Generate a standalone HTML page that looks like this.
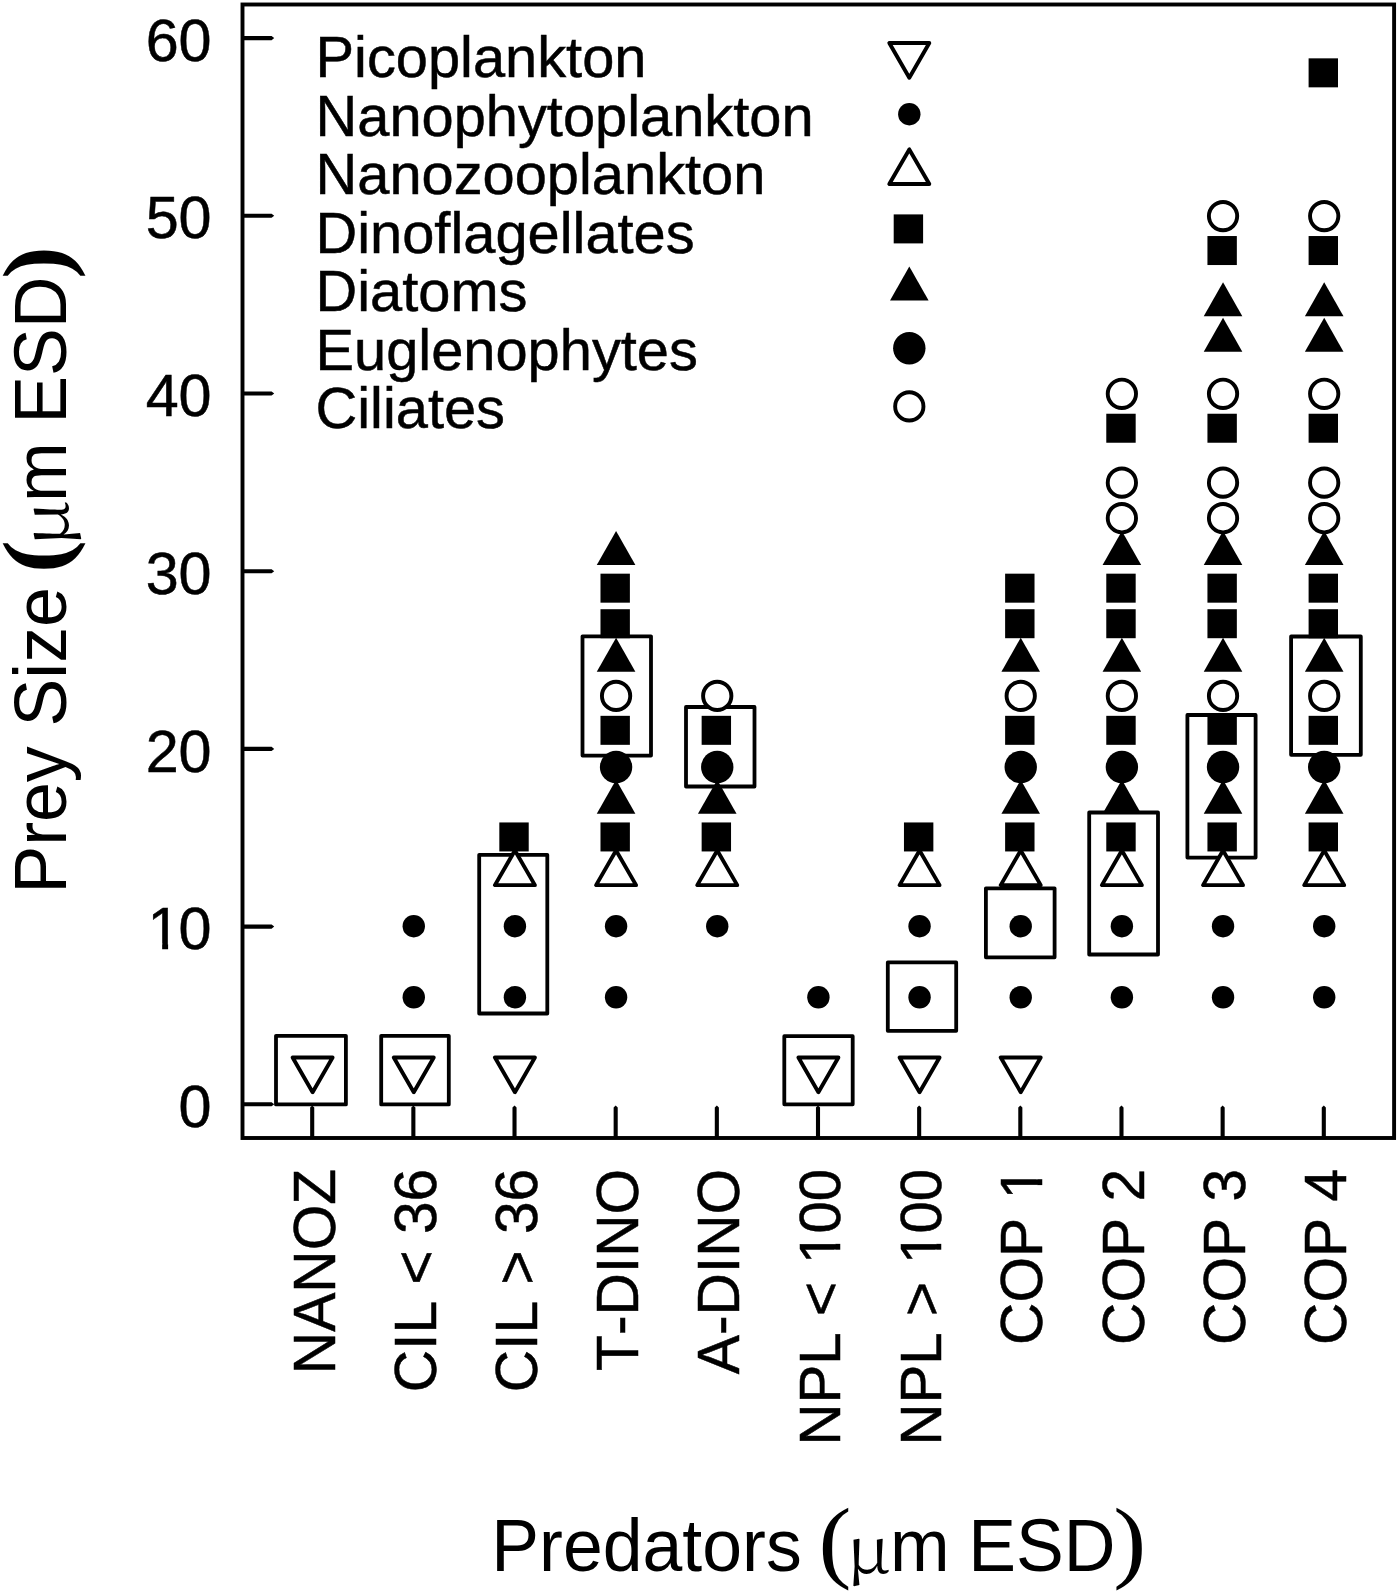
<!DOCTYPE html>
<html lang="en">
<head>
<meta charset="utf-8">
<title>Prey Size vs Predators</title>
<style>
html,body{margin:0;padding:0;background:#fff;}
body{width:1400px;height:1595px;overflow:hidden;}
svg{display:block;}
.ln{fill:none;stroke:#000;stroke-width:3.9;stroke-linejoin:miter;}
.tk polygon{fill:#000;stroke:none;}
.bx rect{fill:none;stroke:#000;stroke-width:3.8;stroke-linejoin:round;}
.o{fill:#fff;stroke:#000;stroke-width:3.9;stroke-linejoin:round;}
.k{fill:#000;stroke:none;}
.w{fill:#fff;stroke:none;}
text{font-kerning:none;fill:#000;}
.t{font-family:"Liberation Sans",Arial,Helvetica,sans-serif;font-size:58px;stroke:#000;stroke-width:0.5px;}
.lg{font-size:57.8px;}
.yl{font-size:59.3px;}
.xl{font-size:58.7px;}
.ti{font-family:"Liberation Sans",Arial,Helvetica,sans-serif;font-size:71.6px;}
.pa{font-family:"Liberation Serif","Times New Roman",serif;font-size:91.5px;}
.mu{font-family:"Noto Serif CJK SC","Liberation Serif",serif;font-size:63.6px;}
.yb{font-weight:bold;}
.e{text-anchor:end;}
</style>
</head>
<body>
<svg width="1400" height="1595" viewBox="0 0 1400 1595">
<rect x="0" y="0" width="1400" height="1595" fill="#fff"/>
<g id="frame"><rect class="ln" x="242.5" y="4.5" width="1151.6" height="1133.5"/></g>
<g id="ticks" class="tk">
<polygon points="243,1102.25 271.6,1102.25 274.2,1104.3 271.6,1106.35 243,1106.35"/>
<polygon points="243,924.55 271.6,924.55 274.2,926.6 271.6,928.65 243,928.65"/>
<polygon points="243,746.85 271.6,746.85 274.2,748.9 271.6,750.95 243,750.95"/>
<polygon points="243,569.15 271.6,569.15 274.2,571.2 271.6,573.25 243,573.25"/>
<polygon points="243,391.45 271.6,391.45 274.2,393.5 271.6,395.55 243,395.55"/>
<polygon points="243,213.75 271.6,213.75 274.2,215.8 271.6,217.85 243,217.85"/>
<polygon points="243,36.05 271.6,36.05 274.2,38.1 271.6,40.15 243,40.15"/>
<polygon points="310.15,1137.5 310.15,1107.6 312.2,1105.4 314.25,1107.6 314.25,1137.5"/>
<polygon points="411.31,1137.5 411.31,1107.6 413.36,1105.4 415.41,1107.6 415.41,1137.5"/>
<polygon points="512.47,1137.5 512.47,1107.6 514.52,1105.4 516.57,1107.6 516.57,1137.5"/>
<polygon points="613.63,1137.5 613.63,1107.6 615.68,1105.4 617.73,1107.6 617.73,1137.5"/>
<polygon points="714.79,1137.5 714.79,1107.6 716.84,1105.4 718.89,1107.6 718.89,1137.5"/>
<polygon points="815.95,1137.5 815.95,1107.6 818,1105.4 820.05,1107.6 820.05,1137.5"/>
<polygon points="917.11,1137.5 917.11,1107.6 919.16,1105.4 921.21,1107.6 921.21,1137.5"/>
<polygon points="1018.27,1137.5 1018.27,1107.6 1020.32,1105.4 1022.37,1107.6 1022.37,1137.5"/>
<polygon points="1119.43,1137.5 1119.43,1107.6 1121.48,1105.4 1123.53,1107.6 1123.53,1137.5"/>
<polygon points="1220.59,1137.5 1220.59,1107.6 1222.64,1105.4 1224.69,1107.6 1224.69,1137.5"/>
<polygon points="1321.75,1137.5 1321.75,1107.6 1323.8,1105.4 1325.85,1107.6 1325.85,1137.5"/>
</g>
<g id="boxes" class="bx">
<rect x="276" y="1035.8" width="69.9" height="68.6"/>
<rect x="381.2" y="1035.8" width="67.6" height="68.6"/>
<rect x="479.2" y="854.8" width="68.1" height="158.7"/>
<rect x="582.5" y="636.3" width="68.5" height="119.3"/>
<rect x="686" y="707" width="68.5" height="79.5"/>
<rect x="784.3" y="1036.2" width="68.4" height="68.1"/>
<rect x="887.8" y="962.4" width="68.4" height="68.4"/>
<rect x="985.9" y="888.3" width="68.7" height="69"/>
<rect x="1089.2" y="812.5" width="68.8" height="142"/>
<rect x="1187.4" y="715" width="68.2" height="142.6"/>
<rect x="1291.1" y="636.5" width="69.7" height="118.3"/>
</g>
<g id="symbols">
<polygon class="o" points="494.92,885.14 534.92,885.14 514.92,850.5"/>
<polygon class="o" points="596.08,885.14 636.08,885.14 616.08,850.5"/>
<polygon class="o" points="697.24,885.14 737.24,885.14 717.24,850.5"/>
<polygon class="o" points="899.56,885.14 939.56,885.14 919.56,850.5"/>
<polygon class="o" points="1000.72,885.14 1040.72,885.14 1020.72,850.5"/>
<polygon class="o" points="1101.88,885.14 1141.88,885.14 1121.88,850.5"/>
<polygon class="o" points="1203.04,885.14 1243.04,885.14 1223.04,850.5"/>
<polygon class="o" points="1304.2,885.14 1344.2,885.14 1324.2,850.5"/>
<polygon class="o" points="292.6,1057.51 332.6,1057.51 312.6,1092.15"/>
<polygon class="o" points="393.76,1057.51 433.76,1057.51 413.76,1092.15"/>
<polygon class="o" points="494.92,1057.51 534.92,1057.51 514.92,1092.15"/>
<polygon class="o" points="798.4,1057.51 838.4,1057.51 818.4,1092.15"/>
<polygon class="o" points="899.56,1057.51 939.56,1057.51 919.56,1092.15"/>
<polygon class="o" points="1000.72,1057.51 1040.72,1057.51 1020.72,1092.15"/>
<circle class="k" cx="413.76" cy="997.28" r="11.2"/>
<circle class="k" cx="413.76" cy="926.2" r="11.2"/>
<circle class="k" cx="514.92" cy="997.28" r="11.2"/>
<circle class="k" cx="514.92" cy="926.2" r="11.2"/>
<circle class="k" cx="616.08" cy="997.28" r="11.2"/>
<circle class="k" cx="616.08" cy="926.2" r="11.2"/>
<circle class="k" cx="717.24" cy="926.2" r="11.2"/>
<circle class="k" cx="818.4" cy="997.28" r="11.2"/>
<circle class="k" cx="919.56" cy="997.28" r="11.2"/>
<circle class="k" cx="919.56" cy="926.2" r="11.2"/>
<circle class="k" cx="1020.72" cy="997.28" r="11.2"/>
<circle class="k" cx="1020.72" cy="926.2" r="11.2"/>
<circle class="k" cx="1121.88" cy="997.28" r="11.2"/>
<circle class="k" cx="1121.88" cy="926.2" r="11.2"/>
<circle class="k" cx="1223.04" cy="997.28" r="11.2"/>
<circle class="k" cx="1223.04" cy="926.2" r="11.2"/>
<circle class="k" cx="1324.2" cy="997.28" r="11.2"/>
<circle class="k" cx="1324.2" cy="926.2" r="11.2"/>
<polygon class="k" points="596.78,813.84 635.38,813.84 616.08,779.84"/>
<polygon class="k" points="596.78,671.68 635.38,671.68 616.08,637.68"/>
<polygon class="k" points="596.78,565.06 635.38,565.06 616.08,531.06"/>
<polygon class="k" points="697.94,813.84 736.54,813.84 717.24,779.84"/>
<polygon class="k" points="1001.42,813.84 1040.02,813.84 1020.72,779.84"/>
<polygon class="k" points="1001.42,671.68 1040.02,671.68 1020.72,637.68"/>
<polygon class="k" points="1102.58,813.84 1141.18,813.84 1121.88,779.84"/>
<polygon class="k" points="1102.58,671.68 1141.18,671.68 1121.88,637.68"/>
<polygon class="k" points="1102.58,565.06 1141.18,565.06 1121.88,531.06"/>
<polygon class="k" points="1203.74,813.84 1242.34,813.84 1223.04,779.84"/>
<polygon class="k" points="1203.74,671.68 1242.34,671.68 1223.04,637.68"/>
<polygon class="k" points="1203.74,565.06 1242.34,565.06 1223.04,531.06"/>
<polygon class="k" points="1203.74,351.82 1242.34,351.82 1223.04,317.82"/>
<polygon class="k" points="1203.74,316.28 1242.34,316.28 1223.04,282.28"/>
<polygon class="k" points="1304.9,813.84 1343.5,813.84 1324.2,779.84"/>
<polygon class="k" points="1304.9,671.68 1343.5,671.68 1324.2,637.68"/>
<polygon class="k" points="1304.9,565.06 1343.5,565.06 1324.2,531.06"/>
<polygon class="k" points="1304.9,351.82 1343.5,351.82 1324.2,317.82"/>
<polygon class="k" points="1304.9,316.28 1343.5,316.28 1324.2,282.28"/>
<circle class="k" cx="616.08" cy="766.97" r="16.2"/>
<circle class="k" cx="717.24" cy="766.97" r="16.2"/>
<circle class="k" cx="1020.72" cy="766.97" r="16.2"/>
<circle class="k" cx="1121.88" cy="766.97" r="16.2"/>
<circle class="k" cx="1223.04" cy="766.97" r="16.2"/>
<circle class="k" cx="1324.2" cy="766.97" r="16.2"/>
<rect class="k" x="499.32" y="822.45" width="29.4" height="29"/>
<rect class="k" x="600.48" y="822.45" width="29.4" height="29"/>
<rect class="k" x="600.48" y="715.83" width="29.4" height="29"/>
<rect class="k" x="600.48" y="609.21" width="29.4" height="29"/>
<rect class="k" x="600.48" y="573.67" width="29.4" height="29"/>
<rect class="k" x="701.64" y="822.45" width="29.4" height="29"/>
<rect class="k" x="701.64" y="715.83" width="29.4" height="29"/>
<rect class="k" x="903.96" y="822.45" width="29.4" height="29"/>
<rect class="k" x="1005.12" y="822.45" width="29.4" height="29"/>
<rect class="k" x="1005.12" y="715.83" width="29.4" height="29"/>
<rect class="k" x="1005.12" y="609.21" width="29.4" height="29"/>
<rect class="k" x="1005.12" y="573.67" width="29.4" height="29"/>
<rect class="k" x="1106.28" y="822.45" width="29.4" height="29"/>
<rect class="k" x="1106.28" y="715.83" width="29.4" height="29"/>
<rect class="k" x="1106.28" y="609.21" width="29.4" height="29"/>
<rect class="k" x="1106.28" y="573.67" width="29.4" height="29"/>
<rect class="k" x="1106.28" y="413.74" width="29.4" height="29"/>
<rect class="k" x="1207.44" y="822.45" width="29.4" height="29"/>
<rect class="k" x="1207.44" y="715.83" width="29.4" height="29"/>
<rect class="k" x="1207.44" y="609.21" width="29.4" height="29"/>
<rect class="k" x="1207.44" y="573.67" width="29.4" height="29"/>
<rect class="k" x="1207.44" y="413.74" width="29.4" height="29"/>
<rect class="k" x="1207.44" y="236.04" width="29.4" height="29"/>
<rect class="k" x="1308.6" y="822.45" width="29.4" height="29"/>
<rect class="k" x="1308.6" y="715.83" width="29.4" height="29"/>
<rect class="k" x="1308.6" y="609.21" width="29.4" height="29"/>
<rect class="k" x="1308.6" y="573.67" width="29.4" height="29"/>
<rect class="k" x="1308.6" y="413.74" width="29.4" height="29"/>
<rect class="k" x="1308.6" y="236.04" width="29.4" height="29"/>
<rect class="k" x="1308.6" y="58.34" width="29.4" height="29"/>
<circle class="o" cx="616.08" cy="695.89" r="14.15"/>
<circle class="o" cx="717.24" cy="695.89" r="14.15"/>
<circle class="o" cx="1020.72" cy="695.89" r="14.15"/>
<circle class="o" cx="1121.88" cy="695.89" r="14.15"/>
<circle class="o" cx="1121.88" cy="518.19" r="14.15"/>
<circle class="o" cx="1121.88" cy="482.65" r="14.15"/>
<circle class="o" cx="1121.88" cy="393.8" r="14.15"/>
<circle class="o" cx="1223.04" cy="695.89" r="14.15"/>
<circle class="o" cx="1223.04" cy="518.19" r="14.15"/>
<circle class="o" cx="1223.04" cy="482.65" r="14.15"/>
<circle class="o" cx="1223.04" cy="393.8" r="14.15"/>
<circle class="o" cx="1223.04" cy="216.1" r="14.15"/>
<circle class="o" cx="1324.2" cy="695.89" r="14.15"/>
<circle class="o" cx="1324.2" cy="518.19" r="14.15"/>
<circle class="o" cx="1324.2" cy="482.65" r="14.15"/>
<circle class="o" cx="1324.2" cy="393.8" r="14.15"/>
<circle class="o" cx="1324.2" cy="216.1" r="14.15"/>
</g>
<g id="legend">
<text class="t lg" transform="translate(315.5,77)">Picoplankton</text>
<polygon class="o" points="889.3,43.05 929.3,43.05 909.3,77.69"/>
<text class="t lg" transform="translate(315.5,135.5)">Nanophytoplankton</text>
<circle class="k" cx="909.3" cy="114.2" r="11.2"/>
<text class="t lg" transform="translate(315.5,194)">Nanozooplankton</text>
<polygon class="o" points="889.3,184.05 929.3,184.05 909.3,149.41"/>
<text class="t lg" transform="translate(315.5,252.5)">Dinoflagellates</text>
<rect class="k" x="893.7" y="214.4" width="29.4" height="29"/>
<text class="t lg" transform="translate(315.5,311)">Diatoms</text>
<polygon class="k" points="890,300.43 928.6,300.43 909.3,266.43"/>
<text class="t lg" transform="translate(315.5,369.5)">Euglenophytes</text>
<circle class="k" cx="909.3" cy="348.3" r="16.2"/>
<text class="t lg" transform="translate(315.5,428)">Ciliates</text>
<circle class="o" cx="909.3" cy="406.4" r="14.15"/>
</g>
<g id="ylabels">
<text class="t e" transform="translate(211.6,1126.9)" style="font-size:59.3px">0</text>
<g transform="translate(211.6,949.2)"><text class="t e" style="font-size:59.3px" x="0" dx="0 -1.96">10</text><rect class="w" x="-61.63" y="-6.03" width="12.19" height="7.63"/><rect class="w" x="-43.5" y="-6.03" width="10.69" height="7.63"/></g>
<text class="t e" transform="translate(211.6,771.5)" style="font-size:59.3px">20</text>
<text class="t e" transform="translate(211.6,593.8)" style="font-size:59.3px">30</text>
<text class="t e" transform="translate(211.6,416.1)" style="font-size:59.3px">40</text>
<text class="t e" transform="translate(211.6,238.4)" style="font-size:59.3px">50</text>
<text class="t e" transform="translate(211.6,60.7)" style="font-size:59.3px">60</text>
</g>
<g id="xlabels">
<text class="t e" transform="translate(334.7,1168.8) rotate(-90)" style="font-size:58.7px">NANOZ</text>
<text class="t e" transform="translate(435.8,1168.8) rotate(-90)" style="font-size:58.7px">CIL &lt; 36</text>
<text class="t e" transform="translate(536.9,1168.8) rotate(-90)" style="font-size:58.7px">CIL &gt; 36</text>
<text class="t e" transform="translate(638,1168.8) rotate(-90)" style="font-size:58.7px">T-DINO</text>
<text class="t e" transform="translate(739.1,1168.8) rotate(-90)" style="font-size:58.7px">A-DINO</text>
<g transform="translate(840.2,1168.8) rotate(-90)"><text class="t e" style="font-size:58.2px" x="0" dx="0 0 0 0 0 0 1.92 -1.92 0">NPL &lt; 100</text><rect class="w" x="-92.86" y="-5.95" width="11.96" height="7.55"/><rect class="w" x="-75.06" y="-5.95" width="10.49" height="7.55"/></g>
<g transform="translate(941.3,1168.8) rotate(-90)"><text class="t e" style="font-size:58.2px" x="0" dx="0 0 0 0 0 0 1.92 -1.92 0">NPL &gt; 100</text><rect class="w" x="-92.86" y="-5.95" width="11.96" height="7.55"/><rect class="w" x="-75.06" y="-5.95" width="10.49" height="7.55"/></g>
<g transform="translate(1042.4,1168.8) rotate(-90)"><text class="t e" style="font-size:58.7px" x="1.94" dx="0 0 0 0 1.94">COP 1</text><rect class="w" x="-28.36" y="-5.98" width="12.07" height="7.58"/><rect class="w" x="-10.41" y="-5.98" width="10.58" height="7.58"/></g>
<text class="t e" transform="translate(1143.5,1168.8) rotate(-90)" style="font-size:58.7px">COP 2</text>
<text class="t e" transform="translate(1244.6,1168.8) rotate(-90)" style="font-size:58.7px">COP 3</text>
<text class="t e" transform="translate(1345.7,1168.8) rotate(-90)" style="font-size:58.7px">COP 4</text>
</g>
<g id="xtitle"><text class="ti" transform="translate(491.3,1571.4) scale(1.000,1.035)">Predators </text><text class="pa" transform="translate(818.6,1571.4) scale(1.080,1.000)">(</text><text class="mu" transform="translate(846.4,1572.7) scale(1.100,1.000)">μ</text><text class="ti" transform="translate(890,1571.4) scale(1.000,1.035)">m </text><text class="ti" transform="translate(968.2,1571.4) scale(1.000,1.040)">ESD</text><text class="pa" transform="translate(1113.3,1571.4) scale(1.080,1.000)">)</text></g>
<g id="ytitle"><text class="ti" transform="translate(66.3,893.6) rotate(-90) scale(1.000,1.035)">Prey Size </text><text class="pa yb" transform="translate(66.3,573) rotate(-90) scale(1.080,1.000)">(</text><text class="mu" transform="translate(67.5,546.6) rotate(-90) scale(1.150,1.000)">μ</text><text class="ti" transform="translate(66.3,502) rotate(-90) scale(1.000,1.035)">m </text><text class="ti" transform="translate(66.3,423.8) rotate(-90) scale(1.000,1.040)">ESD</text><text class="pa yb" transform="translate(66.3,279) rotate(-90) scale(1.080,1.000)">)</text></g>
</svg>
</body>
</html>
